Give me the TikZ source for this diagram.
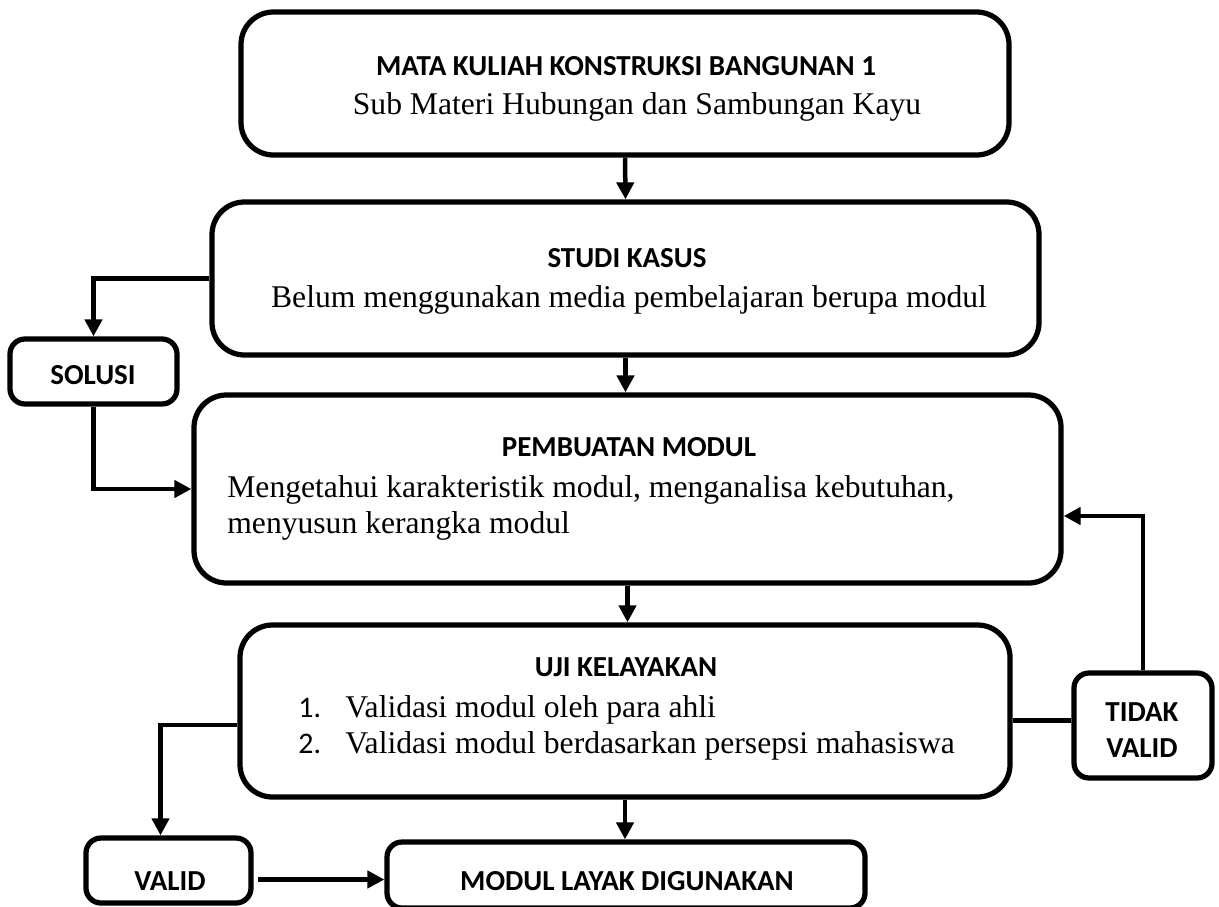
\documentclass[tikz,border=0pt]{standalone}
\usepackage{fontspec}
\setmainfont{Liberation Serif}
\newfontfamily\calibri{Carlito}
\usetikzlibrary{arrows.meta,calc}
\tikzset{
  bigbox/.style={draw, line width=0.105cm, rounded corners=0.65cm, inner sep=0pt},
  smallbox/.style={draw, line width=0.105cm, rounded corners=0.3cm, inner sep=0pt},
  head/.style={inner sep=0pt, anchor=base, font=\calibri\bfseries\fontsize{16.5}{20}\selectfont},
  num/.style={inner sep=0pt, anchor=base west, font=\calibri\fontsize{17}{20}\selectfont},
  body/.style={inner sep=0pt, anchor=base, font=\fontsize{18}{21}\selectfont},
  bodyl/.style={body, anchor=base west},
  arr/.style={line width=0.09cm, -{Triangle[length=0.34cm,width=0.34cm]}},
  plain/.style={line width=0.09cm}
}
\begin{document}
\begin{tikzpicture}[x=0.02cm,y=-0.02cm]
\useasboundingbox (0,0) rectangle (1219,906);
% boxes
\node[bigbox, minimum width=768*0.02cm, minimum height=143*0.02cm] (b1) at (625,83.5) {};
\node[bigbox, minimum width=827*0.02cm, minimum height=153*0.02cm] (b2) at (625.5,278.5) {};
\node[bigbox, minimum width=867*0.02cm, minimum height=188*0.02cm] (b3) at (627.5,489) {};
\node[bigbox, minimum width=770*0.02cm, minimum height=172*0.02cm] (b4) at (625,711) {};
\node[smallbox, minimum width=167*0.02cm, minimum height=65*0.02cm] (solusi) at (93.5,371.5) {};
\node[smallbox, minimum width=138*0.02cm, minimum height=105*0.02cm] (tv) at (1143,725.5) {};
\node[smallbox, minimum width=165*0.02cm, minimum height=65*0.02cm] (valid) at (168.5,870.5) {};
\node[smallbox, minimum width=478*0.02cm, minimum height=66*0.02cm] (modul) at (626,875) {};
% texts
\node[head] (t1h) at (626,75) {MATA KULIAH KONSTRUKSI BANGUNAN 1};
\node[body] (t1b) at (637,114) {Sub Materi Hubungan dan Sambungan Kayu};
\node[head] (t2h) at (627,267) {STUDI KASUS};
\node[body] (t2b) at (629,307) {Belum menggunakan media pembelajaran berupa modul};
\node[head] (t3h) at (629,456) {PEMBUATAN MODUL};
\node[bodyl] (t3b) at (227,497) {Mengetahui karakteristik modul, menganalisa kebutuhan,};
\node[bodyl] (t3c) at (227,533) {menyusun kerangka modul};
\node[head] (t4h) at (626,676) {UJI KELAYAKAN};
\node[num] (n1) at (298,717) {1.};
\node[bodyl] (l1) at (345,717) {Validasi modul oleh para ahli};
\node[num] (n2) at (298,753) {2.};
\node[bodyl] (l2) at (345,753) {Validasi modul berdasarkan persepsi mahasiswa};
\node[head] (ts) at (93,384) {SOLUSI};
\node[head] (ttv1) at (1142,721) {TIDAK};
\node[head] (ttv2) at (1142,757) {VALID};
\node[head] (tva) at (170,890) {VALID};
\node[head] (tmo) at (627,890) {MODUL LAYAK DIGUNAKAN};
% connectors
\draw[arr] (b1.south) -- (b2.north);
\draw[arr] (b2.west) -| (solusi.north);
\draw[arr] (solusi.south) |- (b3.west);
\draw[arr] (b2.south) -- (b2.south |- b3.north);
\draw[arr] (b3.south) -- (b3.south |- b4.north);
\coordinate (tvin) at ($(tv.west)+(0,-5)$);
\draw[plain] (b4.east |- tvin) -- (tvin);
\coordinate (b3in) at ($(b3.east)+(0,27)$);
\draw[arr] (tv.north) |- (b3in);
\coordinate (b4out) at ($(b4.west)+(0,14)$);
\coordinate (vin) at ($(valid.north)+(-8,0)$);
\draw[arr] (b4out) -| (vin);
\coordinate (vout) at ($(valid.east)+(4,9)$);
\draw[arr] (vout) -- (vout -| modul.west);
\draw[arr] (b4.south) -- (b4.south |- modul.north);
\end{tikzpicture}
\end{document}
